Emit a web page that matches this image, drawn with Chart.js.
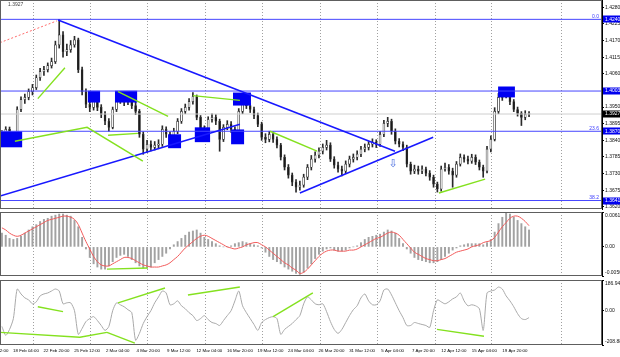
<!DOCTYPE html>
<html><head><meta charset="utf-8">
<script src="https://cdn.jsdelivr.net/npm/chart.js@4.4.1/dist/chart.umd.min.js"></script>
<style>
html,body{margin:0;padding:0;background:#fff;overflow:hidden}
#wrap{position:relative;width:620px;height:357px;overflow:hidden;background:#fff}
canvas{position:absolute;left:0}
</style></head><body><div id="wrap">
<canvas id="cMain" width="620" height="210" style="top:0"></canvas>
<canvas id="cMacd" width="620" height="72" style="top:205px"></canvas>
<canvas id="cCci" width="620" height="85" style="top:272px"></canvas>
</div>
<script>
// ---------------- DATA (GBPUSD, candles of 8h) ----------------
const opens = [1.3845,1.3860,1.3876,1.3850,1.3837,1.3942,1.3975,1.3982,1.4001,1.4014,
 1.4047,1.4067,1.4074,1.4087,1.4100,1.4156,1.4189,1.4133,1.4140,1.4156,
 1.4172,1.4074,1.4001,1.3959,1.3949,1.3975,1.3949,1.3926,1.3903,1.3883,
 1.3942,1.3982,1.3975,1.3968,1.3975,1.3955,1.3936,1.3860,1.3811,1.3827,
 1.3817,1.3824,1.3827,1.3876,1.3860,1.3843,1.3870,1.3903,1.3936,1.3949,
 1.3968,1.3985,1.3916,1.3850,1.3876,1.3909,1.3916,1.3903,1.3843,1.3883,
 1.3893,1.3876,1.3850,1.3936,1.3975,1.3955,1.3942,1.3922,1.3893,1.3850,
 1.3843,1.3860,1.3843,1.3824,1.3784,1.3751,1.3725,1.3702,1.3685,1.3692,
 1.3718,1.3751,1.3778,1.3791,1.3804,1.3817,1.3824,1.3778,1.3758,1.3745,
 1.3738,1.3761,1.3778,1.3784,1.3794,1.3811,1.3817,1.3827,1.3834,1.3827,
 1.3860,1.3896,1.3903,1.3870,1.3837,1.3827,1.3817,1.3761,1.3738,1.3745,
 1.3738,1.3745,1.3731,1.3718,1.3695,1.3679,1.3745,1.3751,1.3738,1.3725,
 1.3761,1.3784,1.3778,1.3771,1.3784,1.3768,1.3751,1.3738,1.3811,1.3843,
 1.3936,1.3982,1.3991,1.4001,1.3968,1.3942,1.3929,1.3916,1.3926];
const highs = [1.3872,1.3885,1.3884,1.3858,1.3951,1.3984,1.3993,1.4010,1.4025,1.4056,
 1.4078,1.4085,1.4096,1.4112,1.4168,1.4240,1.4200,1.4158,1.4170,1.4184,
 1.4178,1.4082,1.4010,1.3972,1.3990,1.3985,1.3958,1.3935,1.3912,1.3950,
 1.3994,1.3998,1.3990,1.3992,1.3985,1.3966,1.3942,1.3868,1.3840,1.3838,
 1.3836,1.3842,1.3888,1.3885,1.3868,1.3880,1.3912,1.3945,1.3960,1.3978,
 1.3998,1.3990,1.3922,1.3888,1.3918,1.3928,1.3925,1.3910,1.3892,1.3905,
 1.3902,1.3885,1.3945,1.3995,1.3985,1.3962,1.3950,1.3930,1.3900,1.3862,
 1.3870,1.3868,1.3852,1.3830,1.3792,1.3760,1.3732,1.3710,1.3705,1.3728,
 1.3760,1.3790,1.3802,1.3815,1.3828,1.3840,1.3832,1.3786,1.3768,1.3755,
 1.3772,1.3788,1.3795,1.3805,1.3820,1.3828,1.3836,1.3845,1.3842,1.3870,
 1.3906,1.3916,1.3910,1.3878,1.3846,1.3835,1.3824,1.3768,1.3758,1.3755,
 1.3756,1.3752,1.3740,1.3725,1.3702,1.3755,1.3765,1.3760,1.3748,1.3770,
 1.3795,1.3792,1.3788,1.3794,1.3792,1.3775,1.3758,1.3820,1.3855,1.3948,
 1.3995,1.4004,1.4014,1.4008,1.3975,1.3950,1.3935,1.3938,1.3935];
const lows = [1.3838,1.3851,1.3842,1.3826,1.3830,1.3935,1.3962,1.3974,1.3990,1.4008,
 1.4038,1.4055,1.4066,1.4079,1.4094,1.4145,1.4115,1.4120,1.4131,1.4148,
 1.4064,1.3990,1.3948,1.3935,1.3940,1.3938,1.3915,1.3892,1.3870,1.3878,
 1.3935,1.3962,1.3955,1.3958,1.3945,1.3925,1.3850,1.3794,1.3800,1.3805,
 1.3808,1.3812,1.3820,1.3850,1.3832,1.3836,1.3862,1.3896,1.3928,1.3940,
 1.3960,1.3908,1.3840,1.3842,1.3868,1.3900,1.3892,1.3804,1.3836,1.3875,
 1.3866,1.3834,1.3845,1.3928,1.3945,1.3932,1.3912,1.3885,1.3840,1.3832,
 1.3835,1.3833,1.3815,1.3775,1.3742,1.3715,1.3690,1.3669,1.3675,1.3685,
 1.3710,1.3742,1.3768,1.3782,1.3795,1.3808,1.3770,1.3748,1.3735,1.3722,
 1.3730,1.3752,1.3768,1.3775,1.3786,1.3802,1.3808,1.3818,1.3816,1.3820,
 1.3852,1.3885,1.3860,1.3828,1.3818,1.3806,1.3752,1.3728,1.3730,1.3728,
 1.3730,1.3722,1.3708,1.3685,1.3669,1.3672,1.3738,1.3728,1.3685,1.3718,
 1.3755,1.3768,1.3762,1.3764,1.3760,1.3742,1.3718,1.3732,1.3802,1.3838,
 1.3928,1.3972,1.3980,1.3958,1.3935,1.3920,1.3889,1.3908,1.3918];
const closes = [1.3860,1.3876,1.3850,1.3837,1.3942,1.3975,1.3982,1.4001,1.4014,1.4047,
 1.4067,1.4074,1.4087,1.4100,1.4156,1.4189,1.4133,1.4140,1.4156,1.4172,
 1.4074,1.4001,1.3959,1.3949,1.3975,1.3949,1.3926,1.3903,1.3883,1.3942,
 1.3982,1.3975,1.3968,1.3975,1.3955,1.3936,1.3860,1.3811,1.3827,1.3817,
 1.3824,1.3827,1.3876,1.3860,1.3843,1.3870,1.3903,1.3936,1.3949,1.3968,
 1.3985,1.3916,1.3850,1.3876,1.3909,1.3916,1.3903,1.3843,1.3883,1.3893,
 1.3876,1.3850,1.3936,1.3975,1.3955,1.3942,1.3922,1.3893,1.3850,1.3843,
 1.3860,1.3843,1.3824,1.3784,1.3751,1.3725,1.3702,1.3685,1.3692,1.3718,
 1.3751,1.3778,1.3791,1.3804,1.3817,1.3824,1.3778,1.3758,1.3745,1.3738,
 1.3761,1.3778,1.3784,1.3794,1.3811,1.3817,1.3827,1.3834,1.3827,1.3860,
 1.3896,1.3903,1.3870,1.3837,1.3827,1.3817,1.3761,1.3738,1.3745,1.3738,
 1.3745,1.3731,1.3718,1.3695,1.3679,1.3745,1.3751,1.3738,1.3725,1.3761,
 1.3784,1.3778,1.3771,1.3784,1.3768,1.3751,1.3738,1.3811,1.3843,1.3936,
 1.3982,1.3991,1.4001,1.3968,1.3942,1.3929,1.3916,1.3926,1.3927];

const macdHist = [0.00241,0.00204,0.00148,0.00130,0.00148,0.00185,0.00241,0.00296,0.00352,0.00389,
 0.00444,0.00481,0.00500,0.00537,0.00555,0.00574,0.00574,0.00555,0.00537,0.00463,
 0.00352,0.00167,-0.00037,-0.00185,-0.00296,-0.00352,-0.00389,-0.00389,-0.00333,-0.00259,
 -0.00185,-0.00148,-0.00130,-0.00167,-0.00222,-0.00278,-0.00333,-0.00370,-0.00370,-0.00352,
 -0.00278,-0.00222,-0.00167,-0.00111,-0.00037,0.00037,0.00093,0.00148,0.00204,0.00259,
 0.00278,0.00296,0.00241,0.00167,0.00130,0.00093,0.00056,0.00019,0,0,
 0.00019,0.00056,0.00074,0.00093,0.00074,0.00056,0.00037,0.00019,-0.00019,-0.00093,
 -0.00167,-0.00222,-0.00259,-0.00296,-0.00352,-0.00389,-0.00426,-0.00463,-0.00481,-0.00444,
 -0.00370,-0.00296,-0.00204,-0.00130,-0.00074,-0.00037,-0.00019,-0.00056,-0.00074,-0.00074,
 -0.00056,-0.00019,0,0.00019,0.00074,0.00130,0.00167,0.00185,0.00204,0.00222,
 0.00259,0.00296,0.00278,0.00241,0.00148,0.00056,-0.00037,-0.00111,-0.00185,-0.00222,
 -0.00241,-0.00259,-0.00278,-0.00278,-0.00259,-0.00222,-0.00167,-0.00111,-0.00056,-0.00019,
 0.00019,0.00037,0.00056,0.00056,0.00056,0.00056,0.00037,0.00074,0.00130,0.00259,
 0.00407,0.00518,0.00592,0.00574,0.00518,0.00463,0.00407,0.00352,0.00296];
const macdSignal = [0.00333,0.00296,0.00241,0.00204,0.00185,0.00204,0.00241,0.00278,0.00315,0.00352,
 0.00389,0.00426,0.00463,0.00481,0.00500,0.00518,0.00537,0.00537,0.00518,0.00481,
 0.00389,0.00241,0.00093,-0.00037,-0.00167,-0.00259,-0.00315,-0.00333,-0.00333,-0.00296,
 -0.00259,-0.00222,-0.00185,-0.00185,-0.00204,-0.00241,-0.00278,-0.00315,-0.00333,-0.00352,
 -0.00352,-0.00352,-0.00333,-0.00315,-0.00278,-0.00222,-0.00167,-0.00093,-0.00019,0.00037,
 0.00093,0.00148,0.00185,0.00204,0.00185,0.00148,0.00111,0.00074,0.00037,0,
 -0.00019,-0.00037,-0.00019,0,0.00037,0.00056,0.00074,0.00074,0.00037,0,
 -0.00056,-0.00111,-0.00167,-0.00222,-0.00278,-0.00315,-0.00370,-0.00407,-0.00463,-0.00444,
 -0.00389,-0.00315,-0.00241,-0.00167,-0.00111,-0.00074,-0.00056,-0.00056,-0.00074,-0.00074,
 -0.00074,-0.00056,-0.00056,-0.00037,0,0.00037,0.00074,0.00111,0.00148,0.00167,
 0.00204,0.00241,0.00259,0.00241,0.00204,0.00130,0.00056,-0.00019,-0.00093,-0.00130,
 -0.00167,-0.00204,-0.00222,-0.00241,-0.00241,-0.00222,-0.00204,-0.00167,-0.00130,-0.00093,
 -0.00074,-0.00056,-0.00037,0,0.00019,0.00037,0.00074,0.00093,0.00111,0.00167,
 0.00259,0.00352,0.00426,0.00500,0.00537,0.00537,0.00500,0.00444,0.00370];
const cci = [-96,-150,-114,-48,132,102,78,66,42,54,
 90,102,108,120,132,120,42,48,48,0,
 -144,-108,-66,-48,-36,-60,-90,-120,-96,0,
 48,36,24,6,-12,-180,-138,-78,-36,0,
 48,84,120,108,36,42,60,30,12,-12,
 -30,-60,-48,-30,-54,-72,-78,-90,-60,-30,
 0,60,120,30,-12,-48,-84,-120,-72,-54,
 -42,-36,-48,-144,-114,-96,-78,-54,-30,42,
 84,66,42,36,42,-6,-66,-114,-138,-114,
 -72,-30,6,30,78,102,60,36,36,60,
 126,132,96,48,0,-42,-90,-90,-72,-78,
 -84,-90,-102,0,66,54,42,54,72,84,
 108,60,30,36,30,12,-120,108,120,126,
 144,132,90,60,24,-18,-48,-54,-42];

const xTickLabels = ["15 Feb 12:00","18 Feb 04:00","22 Feb 20:00","25 Feb 12:00","2 Mar 04:00","4 Mar 20:00",
 "9 Mar 12:00","12 Mar 04:00","16 Mar 20:00","19 Mar 12:00","24 Mar 04:00","26 Mar 20:00","31 Mar 12:00",
 "5 Apr 04:00","7 Apr 20:00","12 Apr 12:00","15 Apr 04:00","19 Apr 20:00"];
const priceTicks = [1.4280,1.4225,1.4170,1.4115,1.4060,1.4005,1.3950,1.3895,1.3840,1.3785,1.3730,1.3675,1.3620];
const levelPrices = [1.4240,1.4003,1.3870,1.3641];
const fibLevels = [1.4240,1.3870,1.3641];
const fibLabels = ["0.0","23.6","38.2"];
const currentPrice = 1.3927;
const macdLabelValues = [0.0061,0,-0.00509];
const macdLabelTexts = ["0.0061","0.00","-0.00509"];
const cciLabelValues = [186.9402,0,-208.885];
const cciLabelTexts = ["186.9402","0.00","-208.885"];

// drawn objects (candle index / price units)
const zoneStart  = [-0.5,22.5,29.6,43.5,50.5,60.5,60.0,129.9];
const zoneEnd    = [5.3,25.7,35.4,46.9,54.5,65.2,63.4,134.3];
const zoneTop    = [1.3870,1.4004,1.4004,1.3860,1.3883,1.3998,1.3876,1.4018];
const zoneBottom = [1.3817,1.3965,1.3965,1.3814,1.3834,1.3955,1.3827,1.3982];
const trendLines = [[[14.7,1.4238],[102.9,1.3804]],[[-0.5,1.3656],[62.3,1.3893]],[[78.0,1.3666],[112.9,1.3850]]];
const redDotted = [[-0.5,1.4163],[14.4,1.4235]];
const greenMain = [
 [[9.4,1.3978],[16.5,1.4080]],
 [[3.4,1.3837],[22.3,1.3883],[36.9,1.3771]],
 [[27.8,1.3857],[35.6,1.3863]],
 [[30.4,1.4001],[43.5,1.3919]],
 [[50.0,1.3988],[62.3,1.3972]],
 [[70.2,1.3870],[82.5,1.3804]],
 [[114.4,1.3666],[126.5,1.3712]]];
const greenMacd = [[[27.5,-0.00389],[38.2,-0.00370]]];
const greenCci = [
 [[-0.5,-132],[20.4,-162],[27.5,-132]],
 [[27.5,-132],[34.8,-198]],
 [[9.4,24],[16,-6]],
 [[30.4,48],[42.7,138]],
 [[48.7,96],[62.3,144]],
 [[71,-36],[81.4,108]],
 [[113.9,-114],[126.2,-156]]];
const arrowAt = [102.4,1.3761];

// ---------------- CONFIG ----------------
const FONT = "'Liberation Sans', Arial, sans-serif";
const FS = 5;
const FSX = 4.4;
const X_MIN = -0.5, X_MAX = 157.1;
const gridIdx = [8.4,23.3,38.2,53.4,68.3,83.3,98.2,113.4,128.3,146.6];
const firstLabelIdx = -1.7, labelStep = 8;
const idx = closes.map((_, i) => i);

const pts = arr => arr.map(p => ({x:p[0], y:p[1]}));
function lineDs(points, color, width, dash, order){
  return {type:'line', data:points, borderColor:color, borderWidth:width, borderDash:dash||[],
    pointRadius:0, fill:false, tension:0, order:order||1};
}
function gridX(){
  return {type:'linear', min:X_MIN, max:X_MAX, offset:false, position:'bottom',
    afterBuildTicks: s => { s.ticks = gridIdx.map(v => ({value:v})); },
    ticks:{display:false}, grid:{color:'#a0a0a0', lineWidth:1, drawTicks:false, offset:false},
    border:{display:false, dash:[1,2]},
    afterFit: s => { s.height = 0; s.paddingLeft = 0; s.paddingRight = 0; }};
}
const frame = {id:'frame', afterDraw(c){
  const a = c.chartArea, x = c.ctx; x.save(); x.strokeStyle = '#5e5e5e'; x.lineWidth = 1;
  x.strokeRect(a.left + 0.5, a.top + 0.5, a.right - a.left - 1, a.bottom - a.top - 1); x.restore(); }};
function subLabels(values, texts){
  return {id:'subLabels', afterDraw(c){
    const ys = c.scales.y, ctx = c.ctx, a = c.chartArea; ctx.save();
    ctx.font = FS + 'px ' + FONT; ctx.fillStyle = '#111'; ctx.textAlign = 'left';
    values.forEach((v, i) => {
      let y = ys.getPixelForValue(v);
      if (i === 0) { ctx.textBaseline = 'top'; y += 1; }
      else if (i === values.length - 1) { ctx.textBaseline = 'bottom'; y -= 0.5; }
      else ctx.textBaseline = 'middle';
      ctx.fillText(texts[i], a.right + 3, y);
    });
    ctx.restore(); }};
}
const common = {animation:false, responsive:false, devicePixelRatio:1, events:[],
  plugins:{legend:{display:false}, tooltip:{enabled:false}}};

// ---------------- MAIN CHART ----------------
const BODY_INDEX = 1;
const mainOverlay = {id:'mainOverlay',
  afterDatasetDraw(c, args){
    if (args.index !== BODY_INDEX) return;
    const xs = c.scales.x, ys = c.scales.y, ctx = c.ctx; ctx.save(); ctx.fillStyle = '#0000f2';
    zoneStart.forEach((s, i) => {
      const x0 = xs.getPixelForValue(s), x1 = xs.getPixelForValue(zoneEnd[i]);
      const y0 = ys.getPixelForValue(zoneTop[i]), y1 = ys.getPixelForValue(zoneBottom[i]);
      ctx.fillRect(x0, y0, x1 - x0, y1 - y0);
    });
    ctx.restore();
  },
  afterDraw(c){
    const xs = c.scales.x, ys = c.scales.y, ctx = c.ctx, a = c.chartArea; ctx.save();
    ctx.font = FS + 'px ' + FONT; ctx.textBaseline = 'middle'; ctx.textAlign = 'left';
    levelPrices.forEach(p => {
      const y = ys.getPixelForValue(p);
      ctx.fillStyle = '#0000ee'; ctx.fillRect(a.right + 1, Math.round(y) - 3.5, 620 - a.right, 7);
      ctx.fillStyle = '#fff'; ctx.fillText(p.toFixed(4), a.right + 3, y);
    });
    const yc = ys.getPixelForValue(currentPrice);
    ctx.fillStyle = '#000'; ctx.fillRect(a.right + 1, Math.round(yc) - 3.5, 620 - a.right, 7);
    ctx.fillStyle = '#fff'; ctx.fillText(currentPrice.toFixed(4), a.right + 3, yc);
    ctx.fillStyle = '#3a3aff'; ctx.textAlign = 'right'; ctx.textBaseline = 'bottom';
    fibLevels.forEach((p, i) => ctx.fillText(fibLabels[i], a.right - 3, ys.getPixelForValue(p) - 0.5));
    ctx.font = '11px DejaVu Sans'; ctx.textAlign = 'center'; ctx.textBaseline = 'middle'; ctx.fillStyle = '#4a6ee0';
    ctx.fillText('\u21E9', xs.getPixelForValue(arrowAt[0]), ys.getPixelForValue(arrowAt[1]));
    ctx.font = FS + 'px ' + FONT; ctx.textAlign = 'left'; ctx.textBaseline = 'top'; ctx.fillStyle = '#444';
    ctx.fillText(currentPrice.toFixed(4), 8, 2);
    ctx.restore();
  }};

const mainDatasets = [
  {type:'bar', data: idx.map(i => ({x:i, y:[lows[i], highs[i]]})), backgroundColor:'#2a2a2a',
   barThickness:1, grouped:false, borderWidth:0, order:6},
  {type:'bar', data: idx.map(i => ({x:i, y:[opens[i], closes[i]]})),
   backgroundColor: ctx => closes[ctx.dataIndex] >= opens[ctx.dataIndex] ? '#ffffff' : '#1a1a1a',
   borderColor:'#333', borderWidth:0.7, borderSkipped:false, barThickness:2, grouped:false, minBarLength:1, order:5},
  lineDs(pts([[X_MIN, currentPrice],[X_MAX, currentPrice]]), '#cfcfcf', 1, [], 4),
  ...levelPrices.map(p => lineDs(pts([[X_MIN, p],[X_MAX, p]]), '#4646ff', 1, [], 3)),
  ...trendLines.map(t => lineDs(pts(t), '#1818ff', 1.6, [], 2)),
  lineDs(pts(redDotted), '#ff6b6b', 1, [2,2], 2),
  ...greenMain.map(g => lineDs(pts(g), '#84e11f', 1.4, [], 1))
];
new Chart(document.getElementById('cMain'), {
  type:'bar', data:{datasets: mainDatasets},
  options:{...common, layout:{padding:{top:0, bottom:1, left:0, right:0}},
    scales:{
      x: gridX(),
      y: {type:'linear', position:'right', min:1.3613, max:1.4304,
        afterBuildTicks: s => { s.ticks = priceTicks.map(v => ({value:v})); },
        afterFit: s => { s.width = 18; s.paddingTop = 0; s.paddingBottom = 0; },
        ticks:{callback: v => Number(v).toFixed(4), font:{family:FONT, size:FS}, color:'#111', padding:1, autoSkip:false},
        grid:{drawOnChartArea:false, drawTicks:true, tickLength:2, color:'#000'},
        border:{display:true, color:'#000'}}
    }},
  plugins:[mainOverlay, frame]
});

// ---------------- MACD ----------------
new Chart(document.getElementById('cMacd'), {
  type:'bar',
  data:{datasets:[
    {type:'bar', data: idx.map(i => ({x:i, y:macdHist[i]})), backgroundColor:'#a2a2a2', barThickness:1.3, grouped:false, borderWidth:0, order:5},
    {type:'line', data: idx.map(i => ({x:i, y:macdSignal[i]})), borderColor:'#f25a5a', borderWidth:1, pointRadius:0, tension:0.4, fill:false, order:2},
    ...greenMacd.map(g => lineDs(pts(g), '#84e11f', 1.4, [], 1))
  ]},
  options:{...common, layout:{padding:{top:7, bottom:1, left:0, right:0}},
    scales:{
      x: gridX(),
      y: {type:'linear', position:'right', min:-0.00509, max:0.0061,
        afterBuildTicks: s => { s.ticks = macdLabelValues.map(v => ({value:v})); },
        afterFit: s => { s.width = 18; s.paddingTop = 0; s.paddingBottom = 0; },
        ticks:{display:false}, grid:{drawOnChartArea:false, drawTicks:true, tickLength:2, color:'#000'},
        border:{display:true, color:'#000'}}
    }},
  plugins:[frame, subLabels(macdLabelValues, macdLabelTexts)]
});

// ---------------- CCI ----------------
new Chart(document.getElementById('cCci'), {
  type:'line',
  data:{datasets:[
    {type:'line', data: idx.map(i => ({x:i, y:cci[i]})), borderColor:'#a9a9a9', borderWidth:1, pointRadius:0, tension:0.25, fill:false, order:2},
    ...greenCci.map(g => lineDs(pts(g), '#84e11f', 1.4, [], 1))
  ]},
  options:{...common, layout:{padding:{top:8, bottom:0, left:0, right:0}},
    scales:{
      x: gridX(),
      xl: {type:'linear', min:X_MIN, max:X_MAX, offset:false, position:'bottom',
        afterBuildTicks: s => { s.ticks = xTickLabels.map((_, k) => ({value: firstLabelIdx + labelStep * k})); },
        afterFit: s => { s.height = 12; s.paddingLeft = 0; s.paddingRight = 0; },
        ticks:{callback: (v, k) => xTickLabels[k], font:{family:FONT, size:FSX}, color:'#000', padding:3,
          autoSkip:false, maxRotation:0, minRotation:0},
        grid:{display:false, drawTicks:false, tickLength:0}, border:{display:false}},
      y: {type:'linear', position:'right', min:-208.885, max:186.9402,
        afterBuildTicks: s => { s.ticks = cciLabelValues.map(v => ({value:v})); },
        afterFit: s => { s.width = 18; s.paddingTop = 0; s.paddingBottom = 0; },
        ticks:{display:false}, grid:{drawOnChartArea:false, drawTicks:true, tickLength:2, color:'#000'},
        border:{display:true, color:'#000'}}
    }},
  plugins:[frame, subLabels(cciLabelValues, cciLabelTexts)]
});
</script></body></html>
